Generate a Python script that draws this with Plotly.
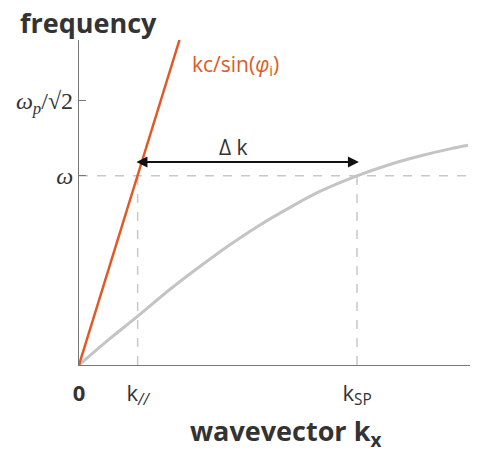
import plotly.graph_objects as go

# ---- data (arbitrary units) ----
sp_k = [0, 0.79, 1.51, 2.33, 3.09, 3.86, 4.63, 5.40, 6.16, 7.11, 7.95, 8.72, 9.49, 9.95]
sp_w = [0, 0.81, 1.51, 2.33, 3.03, 3.70, 4.31, 4.85, 5.34, 5.82, 6.17, 6.43, 6.65, 6.76]
light_k = [0, 2.57]
light_w = [0, 10.0]
omega = 5.82
omega_sp = 8.15
k_par = 1.50
k_sp = 7.11
arrow_y = 6.25

x_tickvals = [0, k_par, k_sp]
x_ticktext = ["<b>0</b>", "k<sub><i>//</i></sub>", "k<sub>SP</sub>"]
y_tickvals = [omega, omega_sp]
y_ticktext = ["<i>ω</i>", "<i>ω<sub>p</sub></i>/√2"]

ORANGE = "#E05A26"
GRAY = "#C4C4C4"
DASH = "#C8C8C8"
TXT = "#333333"
FONT = "Open Sans"

W, H = 479, 454
L, R, T, B = 79, 9, 40, 89
pw, ph = W - L - R, H - T - B


def px_to_paper(px, py):
    return (px - L) / pw, (T + ph - py) / ph


fig = go.Figure()

# dashed guide lines
fig.add_trace(go.Scatter(x=[0, 10], y=[omega, omega], mode="lines",
                         line=dict(color=DASH, width=1.5, dash="dash"), hoverinfo="skip"))
fig.add_trace(go.Scatter(x=[k_par, k_par], y=[0, omega], mode="lines",
                         line=dict(color=DASH, width=1.5, dash="dash"), hoverinfo="skip"))
fig.add_trace(go.Scatter(x=[k_sp, k_sp], y=[0, omega], mode="lines",
                         line=dict(color=DASH, width=1.5, dash="dash"), hoverinfo="skip"))

# surface plasmon dispersion
fig.add_trace(go.Scatter(x=sp_k, y=sp_w, mode="lines", line_shape="spline",
                         line=dict(color=GRAY, width=3)))
# light line
fig.add_trace(go.Scatter(x=light_k, y=light_w, mode="lines",
                         line=dict(color=ORANGE, width=2.5)))

fx, fy = px_to_paper(18, 22)
wx, wy = px_to_paper(285, 433)

annotations = [
    dict(x=k_sp + 0.05, y=arrow_y, ax=k_par - 0.07, ay=arrow_y, xref="x", yref="y",
         axref="x", ayref="y", text="", showarrow=True, arrowhead=2, arrowside="end+start",
         arrowsize=1.1, arrowwidth=2, arrowcolor="#111111"),
    dict(x=3.94, y=6.72, xref="x", yref="y", text="Δ k", showarrow=False,
         font=dict(family=FONT, size=21, color=TXT)),
    dict(x=2.84, y=9.23, xref="x", yref="y", text="kc/sin(<i>φ</i><sub>i</sub>)",
         showarrow=False, xanchor="left", yanchor="middle",
         font=dict(family=FONT, size=21, color=ORANGE)),
    dict(x=fx, y=fy, xref="paper", yref="paper", text="<b>frequency</b>", showarrow=False,
         xanchor="left", yanchor="middle", font=dict(family=FONT, size=27, color=TXT)),
    dict(x=wx, y=wy, xref="paper", yref="paper", text="<b>wavevector k<sub>x</sub></b>",
         showarrow=False, xanchor="center", yanchor="middle",
         font=dict(family=FONT, size=27, color=TXT)),
]

fig.update_layout(
    width=W, height=H,
    margin=dict(l=L, r=R, t=T, b=B),
    paper_bgcolor="white", plot_bgcolor="white",
    showlegend=False,
    annotations=annotations,
    xaxis=dict(range=[0, 10], showgrid=False, zeroline=False, showline=True,
               linecolor="#777777", linewidth=1.2, ticks="",
               tickvals=x_tickvals, ticktext=x_ticktext, ticklabelstandoff=8,
               tickfont=dict(family=FONT, size=22, color=TXT)),
    yaxis=dict(range=[0, 10], showgrid=False, zeroline=False, showline=True,
               linecolor="#777777", linewidth=1.2, ticks="inside", ticklen=7,
               tickcolor="#777777", tickvals=y_tickvals, ticktext=y_ticktext,
               tickfont=dict(family="Liberation Serif", size=24, color=TXT)),
)

fig.write_html("out.html")
